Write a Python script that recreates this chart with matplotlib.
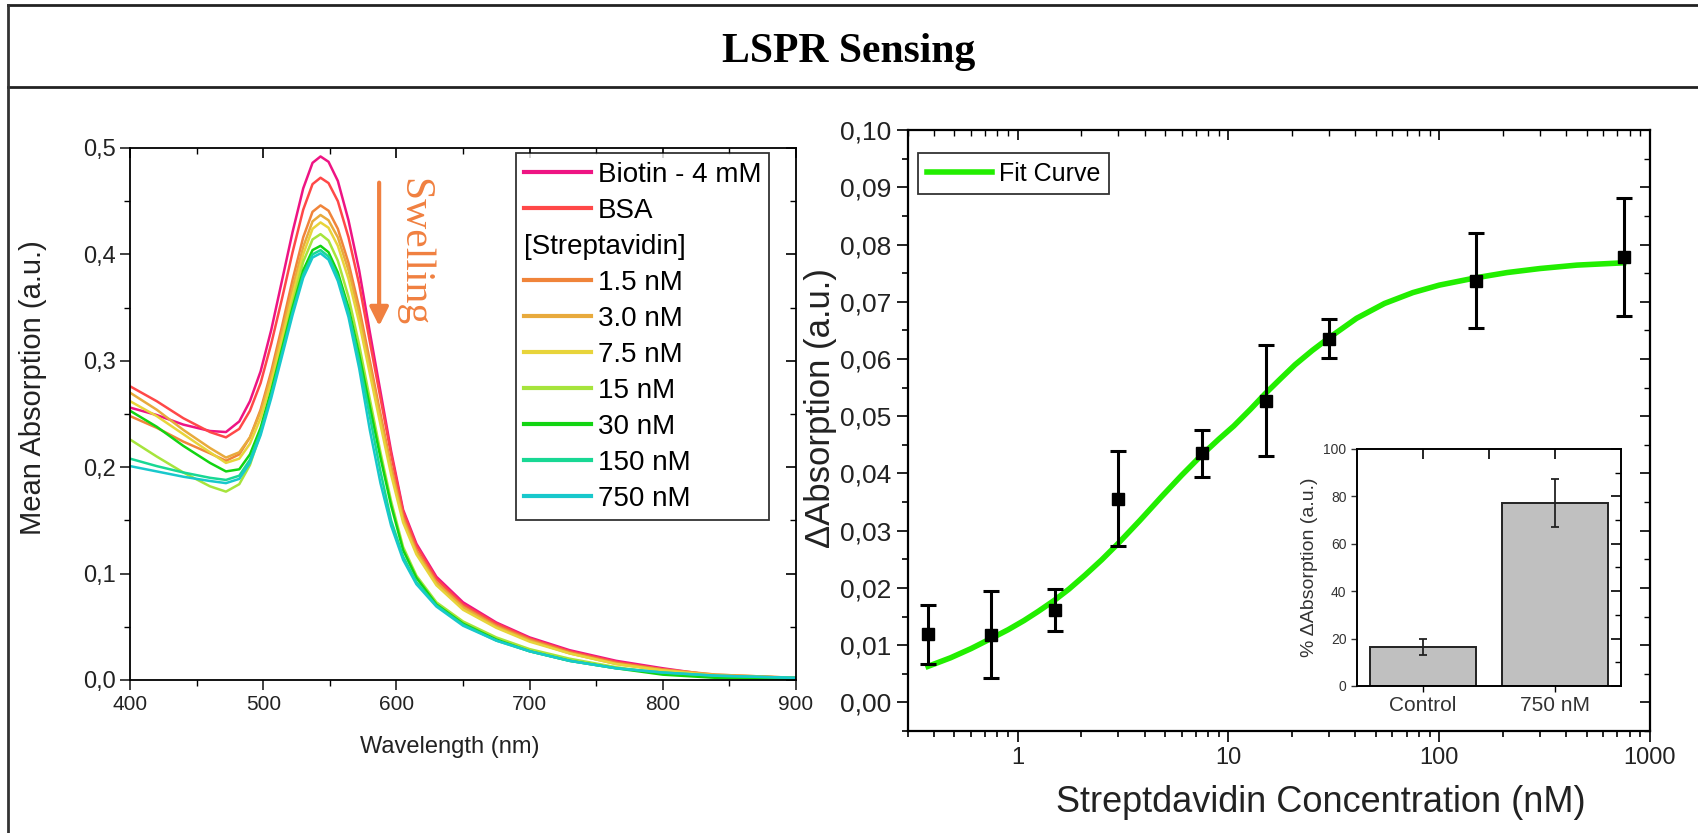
import matplotlib
matplotlib.use("Agg")
import matplotlib.pyplot as plt
from matplotlib.lines import Line2D
from matplotlib.ticker import MultipleLocator, FuncFormatter, NullFormatter, FixedLocator

plt.rcParams['font.family'] = ['Liberation Sans', 'DejaVu Sans']

# ---- left panel: LSPR spectra ----
wavelength = [400, 420, 440, 460, 472, 482, 490, 498, 506, 514, 522, 530, 537, 543, 549, 556,
              564, 572, 580, 588, 596, 605, 615, 630, 650, 675, 700, 730, 765, 800, 840, 900]

biotin = [0.256, 0.249, 0.240, 0.234, 0.233, 0.243, 0.262, 0.290, 0.329, 0.375, 0.421, 0.462, 0.486, 0.492, 0.487, 0.469,
          0.432, 0.385, 0.327, 0.271, 0.215, 0.160, 0.128, 0.097, 0.073, 0.054, 0.040, 0.028, 0.018, 0.011, 0.004, 0.002]
bsa = [0.276, 0.262, 0.246, 0.233, 0.228, 0.236, 0.253, 0.279, 0.316, 0.358, 0.402, 0.442, 0.466, 0.472, 0.467, 0.450,
       0.416, 0.372, 0.318, 0.265, 0.212, 0.158, 0.126, 0.095, 0.071, 0.053, 0.039, 0.027, 0.017, 0.010, 0.004, 0.002]
strep_1_5 = [0.248, 0.237, 0.224, 0.213, 0.206, 0.212, 0.228, 0.254, 0.290, 0.332, 0.376, 0.416, 0.440, 0.446, 0.441, 0.424,
             0.392, 0.350, 0.300, 0.250, 0.201, 0.153, 0.122, 0.092, 0.069, 0.051, 0.038, 0.026, 0.016, 0.010, 0.005, 0.002]
strep_3_0 = [0.270, 0.254, 0.235, 0.218, 0.209, 0.214, 0.228, 0.252, 0.286, 0.326, 0.368, 0.407, 0.431, 0.437, 0.432, 0.416,
             0.385, 0.344, 0.295, 0.246, 0.198, 0.151, 0.120, 0.091, 0.068, 0.050, 0.037, 0.025, 0.015, 0.009, 0.005, 0.002]
strep_7_5 = [0.262, 0.248, 0.231, 0.214, 0.204, 0.208, 0.222, 0.246, 0.280, 0.320, 0.361, 0.400, 0.424, 0.430, 0.425, 0.408,
             0.377, 0.336, 0.288, 0.240, 0.193, 0.148, 0.118, 0.089, 0.066, 0.049, 0.036, 0.025, 0.015, 0.009, 0.004, 0.002]
strep_15 = [0.226, 0.210, 0.195, 0.182, 0.177, 0.184, 0.202, 0.232, 0.270, 0.312, 0.354, 0.393, 0.414, 0.419, 0.413, 0.394,
            0.360, 0.315, 0.264, 0.214, 0.168, 0.125, 0.098, 0.073, 0.055, 0.040, 0.029, 0.020, 0.012, 0.006, 0.003, 0.002]
strep_30 = [0.253, 0.238, 0.220, 0.204, 0.196, 0.198, 0.212, 0.237, 0.272, 0.311, 0.350, 0.385, 0.404, 0.408, 0.402, 0.383,
            0.350, 0.306, 0.257, 0.209, 0.164, 0.122, 0.096, 0.071, 0.053, 0.038, 0.027, 0.018, 0.011, 0.005, 0.002, 0.001]
strep_150 = [0.208, 0.201, 0.195, 0.190, 0.188, 0.192, 0.207, 0.233, 0.268, 0.307, 0.346, 0.381, 0.400, 0.404, 0.398, 0.379,
             0.346, 0.300, 0.248, 0.196, 0.150, 0.116, 0.092, 0.070, 0.052, 0.037, 0.027, 0.018, 0.011, 0.007, 0.004, 0.002]
strep_750 = [0.201, 0.196, 0.191, 0.187, 0.185, 0.189, 0.204, 0.230, 0.265, 0.304, 0.343, 0.378, 0.397, 0.401, 0.395, 0.375,
             0.341, 0.293, 0.235, 0.185, 0.145, 0.113, 0.090, 0.069, 0.051, 0.037, 0.027, 0.018, 0.011, 0.007, 0.004, 0.002]

spectra = [biotin, bsa, strep_1_5, strep_3_0, strep_7_5, strep_15, strep_30, strep_150, strep_750]
spectra_labels = ['Biotin - 4 mM', 'BSA', '1.5 nM', '3.0 nM', '7.5 nM', '15 nM', '30 nM', '150 nM', '750 nM']
spectra_colors = ['#ee1483', '#ff4848', '#f0843a', '#e8aa3c', '#e8d43a', '#a6e43c', '#12d412', '#18d894', '#18c8cc']

# ---- right panel: titration ----
conc = [0.375, 0.75, 1.5, 3, 7.5, 15, 30, 150, 750]
delta_abs = [0.0119, 0.0118, 0.0161, 0.0356, 0.0435, 0.0527, 0.0635, 0.0737, 0.0778]
delta_err = [0.0052, 0.0076, 0.0037, 0.0083, 0.0041, 0.0097, 0.0034, 0.0083, 0.0103]

fit_conc = [0.375, 0.48, 0.6, 0.75, 0.9, 1.07, 1.25, 1.5, 1.75, 2.08, 2.5, 3.0, 3.8, 4.8, 6.0, 7.5, 9.0,
            10.6, 12.7, 15, 17.6, 20.7, 25, 30, 40.5, 55, 75, 100, 150, 210, 300, 450, 750]
fit_abs = [0.0063, 0.0078, 0.0094, 0.0112, 0.0127, 0.0143, 0.0159, 0.0179, 0.0198, 0.0222, 0.0249, 0.0278,
           0.0318, 0.0359, 0.0397, 0.0433, 0.0460, 0.0483, 0.0512, 0.0540, 0.0565, 0.0590, 0.0615, 0.0637,
           0.0671, 0.0697, 0.0716, 0.0729, 0.0742, 0.0751, 0.0758, 0.0764, 0.0768]

# ---- inset bars ----
inset_cats = ['Control', '750 nM']
inset_vals = [16.5, 77.2]
inset_err = [3.5, 10.3]


def comma(dec):
    return FuncFormatter(lambda v, p: f"{v:.{dec}f}".replace('.', ','))


def mirror_ticks(ax, xmaj=None, xmin=None, ymaj=None, ymin=None, logx=False):
    # Origin look: labelled sides tick outward, mirrored sides tick inward
    top = ax.secondary_xaxis('top')
    right = ax.secondary_yaxis('right')
    if not logx:
        top.xaxis.set_major_locator(xmaj)
        if xmin is not None:
            top.xaxis.set_minor_locator(xmin)
    top.xaxis.set_major_formatter(NullFormatter())
    top.xaxis.set_minor_formatter(NullFormatter())
    right.yaxis.set_major_locator(ymaj)
    if ymin is not None:
        right.yaxis.set_minor_locator(ymin)
    right.yaxis.set_major_formatter(NullFormatter())
    for s in (top, right):
        s.tick_params(which='major', direction='in', length=7, width=1.2)
        s.tick_params(which='minor', direction='in', length=4, width=1.0)
        for sp in s.spines.values():
            sp.set_visible(False)


fig = plt.figure(figsize=(16.98, 8.33), dpi=100)

# frame and title
fig.add_artist(Line2D([0.0047, 1], [0.994, 0.994], transform=fig.transFigure, color='#222222', lw=2))
fig.add_artist(Line2D([0.0047, 1], [0.8956, 0.8956], transform=fig.transFigure, color='#222222', lw=2))
fig.add_artist(Line2D([0.0047, 0.0047], [0, 0.994], transform=fig.transFigure, color='#333333', lw=2))
fig.text(0.5, 0.938, 'LSPR Sensing', ha='center', va='center', fontsize=30,
         fontweight='bold', family=['Liberation Serif', 'DejaVu Serif'])

# ---------------- left panel ----------------
ax1 = fig.add_axes([0.0766, 0.1837, 0.3922, 0.6387])
handles = []
for y, lab, col in zip(spectra, spectra_labels, spectra_colors):
    ln, = ax1.plot(wavelength, y, color=col, lw=1.8, label=lab)
    handles.append(ln)
header = Line2D([], [], color='none', label='[Streptavidin]')
handles = handles[:2] + [header] + handles[2:]
ax1.set_xlim(400, 900)
ax1.set_ylim(0, 0.5)
ax1.xaxis.set_major_locator(MultipleLocator(100))
ax1.xaxis.set_minor_locator(MultipleLocator(50))
ax1.yaxis.set_major_locator(MultipleLocator(0.1))
ax1.yaxis.set_minor_locator(MultipleLocator(0.05))
ax1.yaxis.set_major_formatter(comma(1))
ax1.tick_params(which='major', direction='out', length=7, width=1.2, colors='#222222')
ax1.tick_params(axis='x', labelsize=15)
ax1.tick_params(axis='y', labelsize=17)
ax1.tick_params(which='minor', direction='out', length=4, width=1.0)
for sp in ax1.spines.values():
    sp.set_linewidth(1.3)
mirror_ticks(ax1, MultipleLocator(100), MultipleLocator(50), MultipleLocator(0.1), MultipleLocator(0.05))
ax1.set_xlabel('Wavelength (nm)', fontsize=17, color='#222222')
ax1.set_ylabel('Mean Absorption (a.u.)', fontsize=21, color='#222222')
ax1.xaxis.set_label_coords(0.48, -0.105)
ax1.yaxis.set_label_coords(-0.125, 0.55)

leg = ax1.legend(handles=handles, loc='upper right', bbox_to_anchor=(0.96, 0.99), borderaxespad=0,
                 fontsize=20, frameon=True, fancybox=False, handlelength=2.4, handletextpad=0.25,
                 labelspacing=0.36, borderpad=0.3)
leg.get_frame().set_edgecolor('black')
leg.get_frame().set_linewidth(1.3)
for ln in leg.get_lines():
    ln.set_linewidth(3)
# header row: drop the empty handle so the text starts at the box edge
row = leg._legend_handle_box.get_children()[0].get_children()[2]
row.get_children()[0].width = 0
row.sep = 0

ax1.annotate('', xy=(587, 0.330), xytext=(587, 0.470),
             arrowprops=dict(arrowstyle='-|>', color='#f08040', lw=3, mutation_scale=28))
ax1.text(613, 0.402, 'Swelling', rotation=-90, ha='center', va='center', fontsize=30,
         color='#f08040', family=['Liberation Serif', 'DejaVu Serif'])

# ---------------- right panel ----------------
ax2 = fig.add_axes([0.5345, 0.1224, 0.4372, 0.7215])
ax2.set_xscale('log')
fit_ln, = ax2.plot(fit_conc, fit_abs, color='#22ee00', lw=4, label='Fit Curve', zorder=2)
ax2.errorbar(conc, delta_abs, yerr=delta_err, fmt='s', color='black', ms=9, elinewidth=2.2,
             capsize=6, capthick=2.2, zorder=3)
ax2.set_xlim(0.3, 1000)
ax2.set_ylim(-0.005, 0.10)
ax2.yaxis.set_major_locator(MultipleLocator(0.01))
ax2.yaxis.set_minor_locator(MultipleLocator(0.005))
ax2.yaxis.set_major_formatter(comma(2))
ax2.xaxis.set_major_formatter(FuncFormatter(lambda v, p: f"{v:g}"))
ax2.xaxis.set_minor_formatter(NullFormatter())
ax2.tick_params(which='major', direction='out', length=8, width=1.4, colors='#222222')
ax2.tick_params(axis='x', labelsize=17)
ax2.tick_params(axis='y', labelsize=19)
ax2.tick_params(which='minor', direction='out', length=4, width=1.2)
for sp in ax2.spines.values():
    sp.set_linewidth(1.6)
mirror_ticks(ax2, ymaj=MultipleLocator(0.01), ymin=MultipleLocator(0.005), logx=True)
ax2.set_xlabel('Streptdavidin Concentration (nM)', fontsize=26, color='#222222')
ax2.set_ylabel('ΔAbsorption (a.u.)', fontsize=25, color='#222222')
ax2.xaxis.set_label_coords(0.557, -0.09)
ax2.yaxis.set_label_coords(-0.095, 0.537)
leg2 = ax2.legend(handles=[fit_ln], loc='upper left', bbox_to_anchor=(0.014, 0.962), borderaxespad=0,
                  frameon=True, fancybox=False, handlelength=2.6, handletextpad=0.3, borderpad=0.35,
                  fontsize=18)
leg2.get_frame().set_edgecolor('black')
leg2.get_frame().set_linewidth(1.3)

# ---------------- inset ----------------
ax3 = fig.add_axes([0.7992, 0.1765, 0.1555, 0.2845])
xpos = list(range(len(inset_cats)))
ax3.bar(xpos, inset_vals, width=0.8, color='#c0c0c0', edgecolor='#222222', linewidth=1.4)
ax3.errorbar(xpos, inset_vals, yerr=inset_err, fmt='none', ecolor='#222222', elinewidth=1.3,
             capsize=3, capthick=1.3)
ax3.set_xlim(-0.5, 1.5)
ax3.set_ylim(0, 100)
ax3.set_xticks(xpos)
ax3.set_xticklabels(inset_cats, fontsize=15, color='#333333')
ax3.yaxis.set_major_locator(MultipleLocator(20))
ax3.tick_params(axis='y', labelsize=10, colors='#333333')
ax3.tick_params(which='major', direction='out', length=4, width=1.0)
for sp in ax3.spines.values():
    sp.set_linewidth(1.4)
mirror_ticks(ax3, FixedLocator([0, 0.5, 1]), None, MultipleLocator(20), MultipleLocator(10))
ax3.set_ylabel('% ΔAbsorption (a.u.)', fontsize=14, color='#333333', labelpad=4)

fig.savefig('out.png', dpi=100)
